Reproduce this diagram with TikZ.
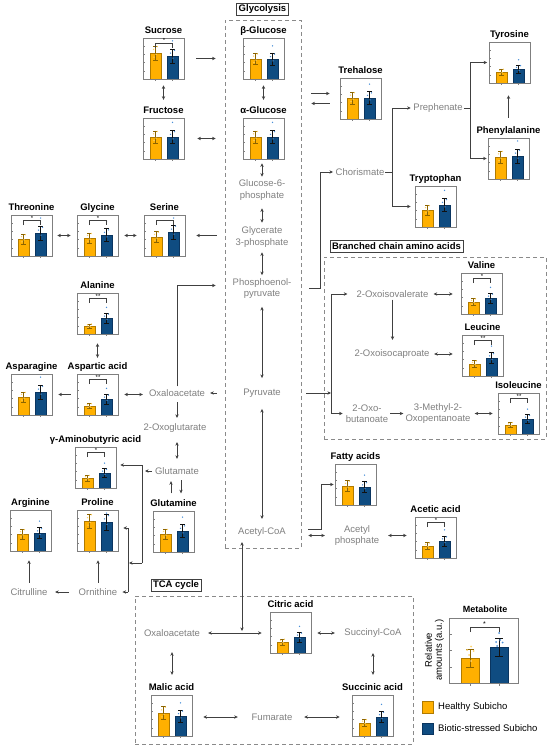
\documentclass[tikz,border=0pt]{standalone}
\usepackage{fontspec}
\setmainfont{Liberation Sans}
\usetikzlibrary{arrows.meta,calc}
\definecolor{cOr}{HTML}{FFB000}
\definecolor{cOrD}{HTML}{B07A00}
\definecolor{cBl}{HTML}{0F4C81}
\definecolor{cBlD}{HTML}{0A3560}
\definecolor{cOrDot}{HTML}{FFD36B}
\definecolor{cBlDot}{HTML}{4A90D9}
\definecolor{cErrO}{HTML}{8C6400}
\definecolor{cErrB}{HTML}{111111}
\definecolor{cBox}{HTML}{7F7F7F}
\definecolor{cLab}{HTML}{808080}
\definecolor{cArr}{HTML}{404040}
\definecolor{cDash}{HTML}{8A8A8A}
\newcommand\bchart[7]{%
 \pgfmathsetmacro\bcB{#3+41}%
 \pgfmathsetmacro\bcXo{#2+12.5}%
 \pgfmathsetmacro\bcXb{#2+29.5}%
 \pgfmathsetmacro\bcEo{min(7,0.28*(\bcB-#4))}%
 \pgfmathsetmacro\bcEb{min(8,0.3*(\bcB-#5))}%
 \pgfmathsetmacro\bcHi{max(#3+3,#5-2.2*\bcEb)}%
 \filldraw[obar] (#2+7,\bcB) rectangle (#2+18,#4);
 \filldraw[bbar] (#2+24,\bcB) rectangle (#2+35,#5);
 \draw[oerr] (\bcXo,#4-\bcEo) -- (\bcXo,#4+\bcEo) (\bcXo-2.2,#4-\bcEo) -- (\bcXo+2.2,#4-\bcEo) (\bcXo-2.2,#4+\bcEo) -- (\bcXo+2.2,#4+\bcEo);
 \draw[berr] (\bcXb,#5-\bcEb) -- (\bcXb,#5+\bcEb) (\bcXb-2.2,#5-\bcEb) -- (\bcXb+2.2,#5-\bcEb) (\bcXb-2.2,#5+\bcEb) -- (\bcXb+2.2,#5+\bcEb);
 \fill[odot] (\bcXo-2,#4-0.5*\bcEo) circle (0.75) (\bcXo+1.8,#4-0.9*\bcEo) circle (0.75) (\bcXo+0.5,#4+0.2*\bcEo) circle (0.75) (\bcXo-1.5,#4+0.6*\bcEo) circle (0.75);
 \fill[bdot] (\bcXb-2,#5-0.4*\bcEb) circle (0.75) (\bcXb+2,#5-0.8*\bcEb) circle (0.75) (\bcXb+0.5,#5+0.3*\bcEb) circle (0.75) (\bcXb,\bcHi) circle (0.75);
 \draw[axtick] (#2,#3+8.2) -- ++(2,0) (#2,#3+16.4) -- ++(2,0) (#2,#3+24.6) -- ++(2,0) (#2,#3+32.8) -- ++(2,0) (\bcXo,\bcB) -- ++(0,2) (\bcXb,\bcB) -- ++(0,2);
 \node[cbox] (#1) at (#2+20.5,#3+20.5) {};
 \node[ctitle] (#1-t) at (#2+20.5,#3-7) {#6};
 \ifcase#7\relax\or
   \draw[sigbr] (\bcXo,#3+10) -- (\bcXo,#3+5.5) -- (\bcXb,#3+5.5) -- (\bcXb,#3+10);
 \or
   \draw[sigbr] (\bcXo,#3+10) -- (\bcXo,#3+5.5) -- (\bcXb,#3+5.5) -- (\bcXb,#3+10);
   \node[sigstar] (#1-s) at ({(\bcXo+\bcXb)/2},#3+5.5) {*};
 \or
   \draw[sigbr] (\bcXo,#3+10) -- (\bcXo,#3+5.5) -- (\bcXb,#3+5.5) -- (\bcXb,#3+10);
   \node[sigstar] (#1-s) at ({(\bcXo+\bcXb)/2},#3+5.5) {**};
 \fi
}
\begin{document}
\begin{tikzpicture}[x=1pt,y=-1pt,
 cbox/.style={draw=cBox, line width=0.6pt, minimum width=41pt, minimum height=41pt, inner sep=0pt},
 ctitle/.style={font=\bfseries\fontsize{9.5}{11}\selectfont, text height=7pt, text depth=2pt, inner sep=1pt},
 lbl/.style={text=cLab, font=\fontsize{9.5}{11.5}\selectfont, align=center, inner sep=1pt},
 arr/.style={draw=cArr, line width=0.6pt, -{Stealth[length=3.6pt,width=3.4pt]}},
 darr/.style={draw=cArr, line width=0.6pt, {Stealth[length=3.6pt,width=3.4pt]}-{Stealth[length=3.6pt,width=3.4pt]}},
 conn/.style={draw=cArr, line width=0.6pt},
 obar/.style={fill=cOr, draw=cOrD, line width=0.5pt},
 bbar/.style={fill=cBl, draw=cBlD, line width=0.5pt},
 oerr/.style={draw=cErrO, line width=0.5pt},
 berr/.style={draw=cErrB, line width=0.5pt},
 odot/.style={fill=cOrDot},
 bdot/.style={fill=cBlDot},
 axtick/.style={draw=cBox, line width=0.4pt},
 sigbr/.style={draw=cArr, line width=0.45pt},
 sigstar/.style={font=\fontsize{6}{6}\selectfont, inner sep=0.3pt, anchor=south},
 dbox/.style={draw=cDash, line width=0.7pt, dash pattern=on 4pt off 3pt, inner sep=0pt},
 tbox/.style={draw=cArr, line width=0.8pt, fill=white, font=\bfseries\fontsize{9.5}{11}\selectfont, text height=7pt, text depth=2pt, inner xsep=2pt, inner ysep=1.5pt}
]
\useasboundingbox (0,0) rectangle (550,751);
\fill[white] (0,0) rectangle (550,751);

% dashed regions
\node[dbox, minimum width=76pt, minimum height=528pt] (glybox) at (263,284) {};
\node[tbox] (glyt) at (262.5,9.5) {Glycolysis};
\node[dbox, minimum width=222pt, minimum height=182pt] (bcbox) at (435,348) {};
\node[tbox] (bct) at (396.5,246.5) {Branched chain amino acids};
\node[dbox, minimum width=278pt, minimum height=148pt] (tcabox) at (274,670) {};
\node[tbox] (tcat) at (176,585) {TCA cycle};

% charts
\bchart{sucrose}{143}{38}{53}{56}{Sucrose}{2}
\bchart{bglu}{243}{38}{59}{59}{β-Glucose}{0}
\bchart{fru}{143}{118}{137}{137}{Fructose}{0}
\bchart{aglu}{243}{118}{137}{137}{α-Glucose}{0}
\bchart{treh}{340}{78}{98}{98}{Trehalose}{0}
\bchart{tyr}{489}{42}{72}{69}{Tyrosine}{0}
\bchart{phe}{488}{138}{157}{156}{Phenylalanine}{0}
\bchart{trp}{415}{186}{210}{205}{Tryptophan}{0}
\bchart{thr}{11}{215}{239}{233}{Threonine}{2}
\bchart{gly}{77}{215}{238}{235}{Glycine}{2}
\bchart{ser}{144}{215}{237}{232}{Serine}{1}
\bchart{ala}{77}{293}{326}{318}{Alanine}{3}
\bchart{asp}{77}{374}{406}{399}{Aspartic acid}{3}
\bchart{asn}{11}{374}{397}{392}{Asparagine}{0}
\bchart{gaba}{75}{447}{478}{473}{γ-Aminobutyric acid}{2}
\bchart{arg}{10}{510}{534}{533}{Arginine}{0}
\bchart{pro}{77}{510}{521}{522}{Proline}{0}
\bchart{gln}{153}{511}{534}{531}{Glutamine}{0}
\bchart{val}{461}{273}{302}{298}{Valine}{2}
\bchart{leu}{462}{335}{364}{358}{Leucine}{3}
\bchart{ile}{498}{393}{425}{419}{Isoleucine}{3}
\bchart{fatty}{335}{464}{486}{487}{Fatty acids}{0}
\bchart{acetic}{415}{517}{546}{541}{Acetic acid}{2}
\bchart{citric}{270}{612}{642}{637}{Citric acid}{0}
\bchart{malic}{151}{695}{713}{716}{Malic acid}{0}
\bchart{succ}{352}{695}{723}{717}{Succinic acid}{0}

% grey labels
\node[lbl] (g6p) at (262,190) {Glucose-6-\\phosphate};
\node[lbl] (g3p) at (262,237) {Glycerate\\3-phosphate};
\node[lbl] (pep) at (262,288.5) {Phosphoenol-\\pyruvate};
\node[lbl] (pyr) at (262,393) {Pyruvate};
\node[lbl] (acoa) at (262,532) {Acetyl-CoA};
\node[lbl] (prep) at (438,108) {Prephenate};
\node[lbl] (chor) at (360,172) {Chorismate};
\node[lbl] (oiv) at (392.5,294) {2-Oxoisovalerate};
\node[lbl] (oic) at (392,354) {2-Oxoisocaproate};
\node[lbl] (oxb) at (367,413.5) {2-Oxo-\\butanoate};
\node[lbl] (mop) at (438,413.5) {3-Methyl-2-\\Oxopentanoate};
\node[lbl] (oaa) at (177,393) {Oxaloacetate};
\node[lbl] (ogl) at (175,428) {2-Oxoglutarate};
\node[lbl] (glu) at (177,471) {Glutamate};
\node[lbl] (cit) at (29,592) {Citrulline};
\node[lbl] (orn) at (98,592) {Ornithine};
\node[lbl] (acp) at (357,535.5) {Acetyl\\phosphate};
\node[lbl] (oaa2) at (172,633) {Oxaloacetate};
\node[lbl] (sca) at (373,633) {Succinyl-CoA};
\node[lbl] (fum) at (272,717) {Fumarate};

% sugars / glycolysis
\draw[darr, shorten <=6pt, shorten >=5.5pt] (sucrose.south) -- (sucrose.south |- fru-t.north);
\draw[darr, shorten <=6pt, shorten >=5.5pt] (bglu.south) -- (bglu.south |- aglu-t.north);
\draw[arr, shorten <=12pt, shorten >=9pt] (sucrose.east) -- (sucrose.east -| glybox.west);
\draw[darr, shorten <=13pt, shorten >=9pt] (fru.east) -- (fru.east -| glybox.west);
\draw[darr, shorten <=4pt, shorten >=2pt] (g6p.north |- aglu.south) -- (g6p.north);
\draw[darr, shorten <=7pt, shorten >=3pt] (g6p.south) -- (g3p.north);
\draw[darr, shorten <=4pt, shorten >=2pt] (g3p.south) -- (pep.north);
\draw[darr, shorten <=7pt, shorten >=9.5pt] (pep.south) -- (pyr.north);
\draw[darr, shorten <=10.5pt, shorten >=7.5pt] (pyr.south) -- (acoa.north);

% trehalose
\draw[arr, shorten <=10pt, shorten >=10pt] ($(glybox.east |- treh.west)+(0,-5)$) -- ($(treh.west)+(0,-5)$);
\draw[arr, shorten <=10pt, shorten >=10pt] ($(treh.west)+(0,5)$) -- ($(glybox.east |- treh.west)+(0,5)$);

% aromatic amino acids
\draw[arr, shorten >=1.5pt] ($(glybox.east |- pep)+(8,0)$) -- ++(11,0) |- (chor.west);
\draw[arr, shorten >=1.5pt] (chor.east) -- ++(7,0) |- (prep.west);
\draw[arr, shorten >=4pt] (chor.east) -- ++(7,0) |- (trp.west);
\draw[arr, shorten >=1.5pt] (prep.east) -- ++(7,0) |- (tyr.west);
\draw[arr, shorten >=1pt] (prep.east) -- ++(7,0) |- (phe.west);
\draw[arr, shorten <=7.5pt, shorten >=12pt] (phe-t.north) -- (phe-t.north |- tyr.south);

% branched chain
\coordinate (bcj) at (331,393);
\draw[arr] ($(glybox.east |- pyr)+(5,0)$) -- (bcj);
\draw[arr, shorten >=8pt] (bcj) |- (oiv.west);
\draw[arr, shorten >=2pt] (bcj) |- (oxb.west);
\draw[darr, shorten <=4pt, shorten >=8pt] (oiv.east) -- (oiv.east -| val.west);
\draw[arr, shorten <=1pt, shorten >=8.5pt] (oiv.south) -- (oiv.south |- oic.north);
\draw[darr, shorten <=3.5pt, shorten >=9pt] (oic.east) -- (oic.east -| leu.west);
\draw[arr, shorten <=1pt, shorten >=1pt] (oxb.east) -- (oxb.east -| mop.west);
\draw[darr, shorten <=3pt, shorten >=5pt] (mop.east) -- (mop.east -| ile.west);

% serine family
\draw[arr, shorten <=8pt, shorten >=11pt] (glybox.west |- ser.east) -- (ser.east);
\draw[darr, shorten <=6pt, shorten >=7pt] (gly.east) -- (ser.west);
\draw[darr, shorten <=5pt, shorten >=6pt] (thr.east) -- (gly.west);

% oxaloacetate / aspartate family
\draw[arr, shorten <=2pt] (oaa.north) |- ($(glybox.west |- pep)+(-9,-3)$);
\draw[arr, shorten <=8pt, shorten >=4pt] (glybox.west |- oaa.east) -- (oaa.east);
\draw[darr, shorten <=6pt, shorten >=5pt] (asp.east) -- (asp.east -| oaa.west);
\draw[arr, shorten <=6pt, shorten >=6pt] (asp.west) -- (asn.east);
\draw[darr, shorten <=9pt, shorten >=3.5pt] (ala.south) -- (asp-t.north);
\draw[arr, shorten <=4.5pt, shorten >=4.5pt] (oaa.south) -- (oaa.south |- ogl.north);
\draw[darr, shorten <=8.5pt, shorten >=7.5pt] (glu.north |- ogl.south) -- (glu.north);
\draw[arr, shorten <=5pt, shorten >=5.5pt] ($(gln-t.north)+(-2.5,0)$) -- ($(glu.south)+(-6,0)$);
\draw[arr, shorten <=4.5pt, shorten >=5pt] ($(glu.south)+(4,0)$) -- ($(gln-t.north)+(7.5,0)$);

% glutamate network
\coordinate (gtop) at (142,465);
\coordinate (gbot) at (142,563);
\coordinate (ptop) at (128,528);
\coordinate (pbot) at (128,592);
\draw[arr, shorten <=2pt, shorten >=3pt] (glu.west) -- (glu.west -| gtop);
\draw[conn] (gtop) -- (gbot);
\draw[arr, shorten >=4pt] (gtop) -- (gtop -| gaba.east);
\draw[arr, shorten >=1pt] (gbot) -- (gbot -| ptop);
\draw[conn] (ptop) -- (pbot);
\draw[arr, shorten >=5pt] (ptop) -- (ptop -| pro.east);
\draw[arr, shorten >=4pt] (pbot) -- (orn.east);
\draw[arr, shorten <=8.5pt, shorten >=6.5pt] (orn.west) -- (cit.east);
\draw[arr, shorten <=4.5pt, shorten >=9pt] (cit.north) -- (cit.north |- arg.south);
\draw[arr, shorten <=4.5pt, shorten >=9pt] (orn.north) -- (orn.north |- pro.south);

% TCA
\coordinate (tcain) at (242,631);
\draw[darr, shorten <=4.5pt] ($(acoa.south)+(-20,0)$) -- (tcain);
\draw[darr, shorten <=7pt, shorten >=8pt] (oaa2.east) -- (oaa2.east -| citric.west);
\draw[darr, shorten <=6pt, shorten >=8.5pt] (citric.east |- sca.west) -- (sca.west);
\draw[darr, shorten <=14.5pt, shorten >=7.5pt] (sca.south) -- (sca.south |- succ-t.north);
\draw[darr, shorten <=14.5pt, shorten >=7.5pt] (oaa2.south) -- (oaa2.south |- malic-t.north);
\draw[darr, shorten <=11pt, shorten >=12.7pt] (malic.east |- fum.west) -- (fum.west);
\draw[darr, shorten <=10.7pt, shorten >=12pt] (fum.east) -- (fum.east -| succ.west);

% fatty acids / acetate
\draw[arr, shorten >=1pt] ($(glybox.east |- acoa)+(7,-3)$) -- ++(13,0) |- (fatty.west);
\draw[darr, shorten <=7pt, shorten >=8.8pt] (glybox.east |- acp.west) -- (acp.west);
\draw[darr, shorten <=7.8pt, shorten >=8pt] (acp.east) -- (acp.east -| acetic.west);

% legend chart
\filldraw[obar] (461,683) rectangle (479,658);
\filldraw[bbar] (490,683) rectangle (508,647);
\draw[oerr] (470,649) -- (470,667) (466,649) -- (474,649) (466,667) -- (474,667);
\draw[berr] (499,638) -- (499,656) (495,638) -- (503,638) (495,656) -- (503,656);
\fill[odot] (467,650) circle (1) (471,646.5) circle (1) (473.5,651) circle (1) (469,655) circle (1) (471,661) circle (1);
\fill[bdot] (496,642) circle (1) (500,640) circle (1) (502.5,642.5) circle (1) (499,633) circle (1) (497,646) circle (1);
\draw[axtick] (449,634.25) -- ++(2.5,0) (449,650.5) -- ++(2.5,0) (449,666.75) -- ++(2.5,0) (470,683) -- ++(0,2.5) (499,683) -- ++(0,2.5);
\node[cbox, minimum width=69pt, minimum height=65pt] (met) at (483.5,650.5) {};
\node[ctitle, font=\bfseries\fontsize{9}{10}\selectfont] (met-t) at (485,610) {Metabolite};
\draw[sigbr] (470,632) -- (470,627) -- (499,627) -- (499,632);
\node[sigstar, font=\fontsize{7}{7}\selectfont] (met-s) at (484.5,627) {*};
\node[rotate=90, font=\fontsize{9.5}{10}\selectfont, align=center, inner sep=0pt] (ylab) at (434.5,650) {Relative\\amounts (a.u.)};
\node[draw=cOrD, fill=cOr, minimum size=11.5pt, inner sep=0pt] (lgo) at (427.5,707) {};
\node[font=\fontsize{9.5}{11}\selectfont, anchor=west, inner sep=1pt] (lgot) at (437,707) {Healthy Subicho};
\node[draw=cBlD, fill=cBl, minimum size=11.5pt, inner sep=0pt] (lgb) at (427.5,728.5) {};
\node[font=\fontsize{9.5}{11}\selectfont, anchor=west, inner sep=1pt] (lgbt) at (437,728.5) {Biotic-stressed Subicho};
\end{tikzpicture}
\end{document}
